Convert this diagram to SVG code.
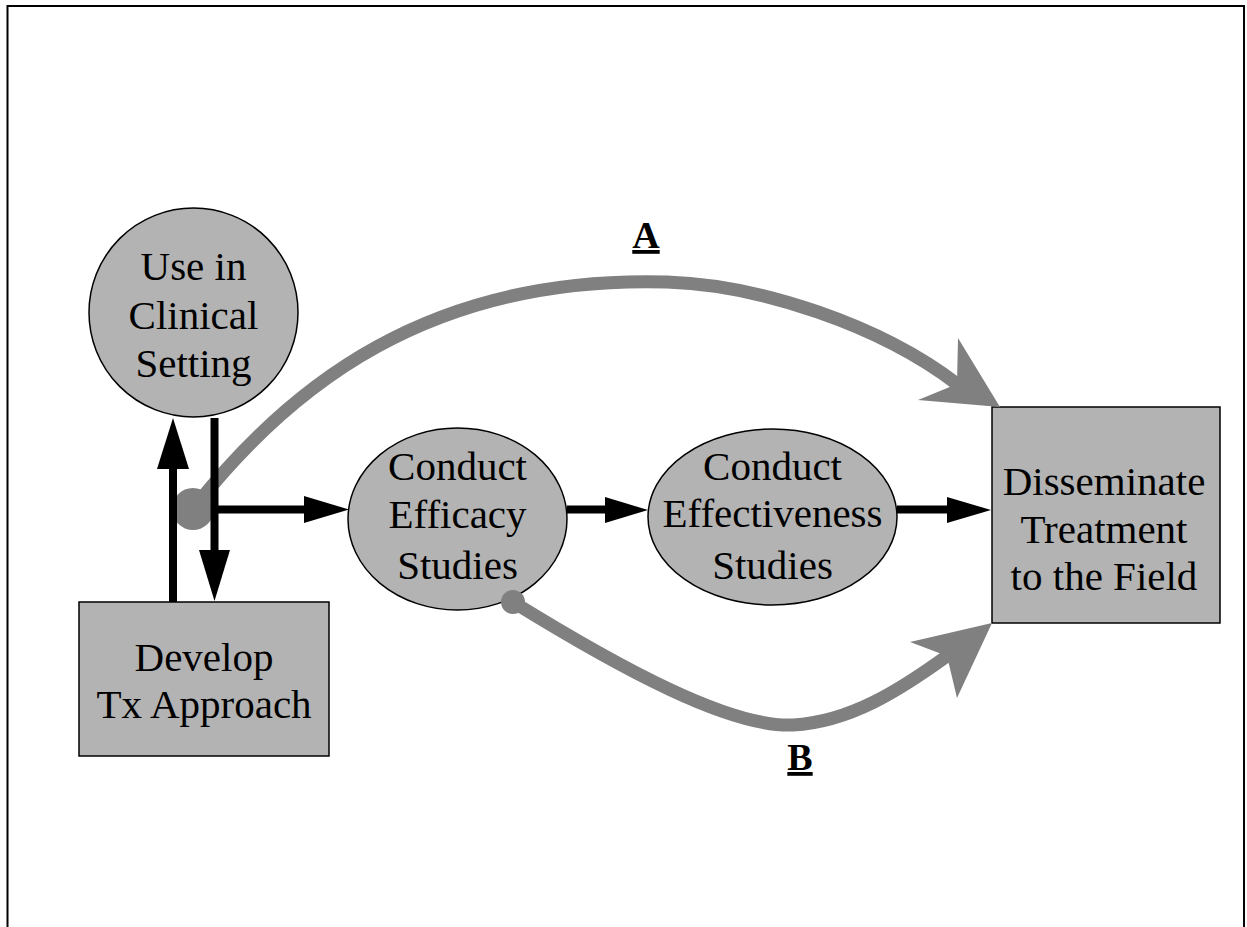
<svg xmlns="http://www.w3.org/2000/svg" width="1247" height="927" viewBox="0 0 1247 927">
  <style>
    .node { fill: #b3b3b3; stroke: #000; stroke-width: 1.5; }
    .lbl { font-family: "Liberation Serif", "Times New Roman", serif; font-size: 41px; fill: #000; text-anchor: middle; }
    .tag { font-family: "Liberation Serif", "Times New Roman", serif; font-size: 38px; font-weight: bold; fill: #000; text-anchor: middle; text-decoration: underline; }
    .shaft { stroke: #000; stroke-width: 8; fill: none; }
    .head { fill: #000; }
    .gcurve { stroke: #808080; stroke-width: 13; fill: none; }
    .ghead { fill: #808080; }
  </style>
  <rect width="1247" height="927" fill="#fff"/>
  <path d="M7.5,927 V6 H1244 V927" fill="none" stroke="#000" stroke-width="2"/>

  <g id="use-clinical">
    <circle class="node" cx="193.5" cy="312.5" r="104.5"/>
    <text class="lbl" x="193.5" y="280">Use in</text>
    <text class="lbl" x="193.5" y="329">Clinical</text>
    <text class="lbl" x="193.5" y="377">Setting</text>
  </g>
  <g id="develop">
    <rect class="node" x="79" y="602" width="250" height="154"/>
    <text class="lbl" x="204" y="671">Develop</text>
    <text class="lbl" x="204" y="718">Tx Approach</text>
  </g>
  <g id="efficacy">
    <ellipse class="node" cx="457.5" cy="519" rx="109.5" ry="91"/>
    <text class="lbl" x="457.5" y="480">Conduct</text>
    <text class="lbl" x="457.5" y="528">Efficacy</text>
    <text class="lbl" x="457.5" y="579">Studies</text>
  </g>
  <g id="effectiveness">
    <ellipse class="node" cx="772.5" cy="517" rx="124.5" ry="88"/>
    <text class="lbl" x="772.5" y="480">Conduct</text>
    <text class="lbl" x="772.5" y="527">Effectiveness</text>
    <text class="lbl" x="772.5" y="579">Studies</text>
  </g>
  <g id="disseminate">
    <rect class="node" x="992" y="407" width="228" height="216"/>
    <text class="lbl" x="1104" y="495">Disseminate</text>
    <text class="lbl" x="1104" y="543">Treatment</text>
    <text class="lbl" x="1104" y="590">to the Field</text>
  </g>

  <g id="connectors">
    <!-- path A -->
    <path class="gcurve" d="M193,509 C290,385 430,275 667,282 C760,285 880,325 957,384"/>
    <polygon class="ghead" points="958,338 1000,407 918,400 957,384"/>
    <circle cx="193" cy="509" r="21" fill="#808080"/>
    <!-- path B -->
    <path class="gcurve" d="M513,602 C620,668 730,728 793,725 C850,722 900,690 947,656"/>
    <polygon class="ghead" points="910,642 992,623 957,698 947,656"/>
    <circle cx="513" cy="602" r="12" fill="#808080"/>

    <!-- black arrows -->
    <line class="shaft" x1="173" y1="602" x2="173" y2="468"/>
    <polygon class="head" points="157,469 173,418 189,469"/>
    <line class="shaft" x1="214.5" y1="418" x2="214.5" y2="551"/>
    <polygon class="head" points="199,550 214.5,601 230,550"/>
    <line class="shaft" x1="214" y1="509.5" x2="305" y2="509.5"/>
    <polygon class="head" points="304,496 349,509.5 304,523"/>
    <line class="shaft" x1="567" y1="509.5" x2="606" y2="509.5"/>
    <polygon class="head" points="605,497 648,510 605,523"/>
    <line class="shaft" x1="897" y1="509.5" x2="948" y2="509.5"/>
    <polygon class="head" points="947,497 991,510 947,523"/>

    <text class="tag" x="646" y="248">A</text>
    <text class="tag" x="800" y="770">B</text>
  </g>
</svg>
